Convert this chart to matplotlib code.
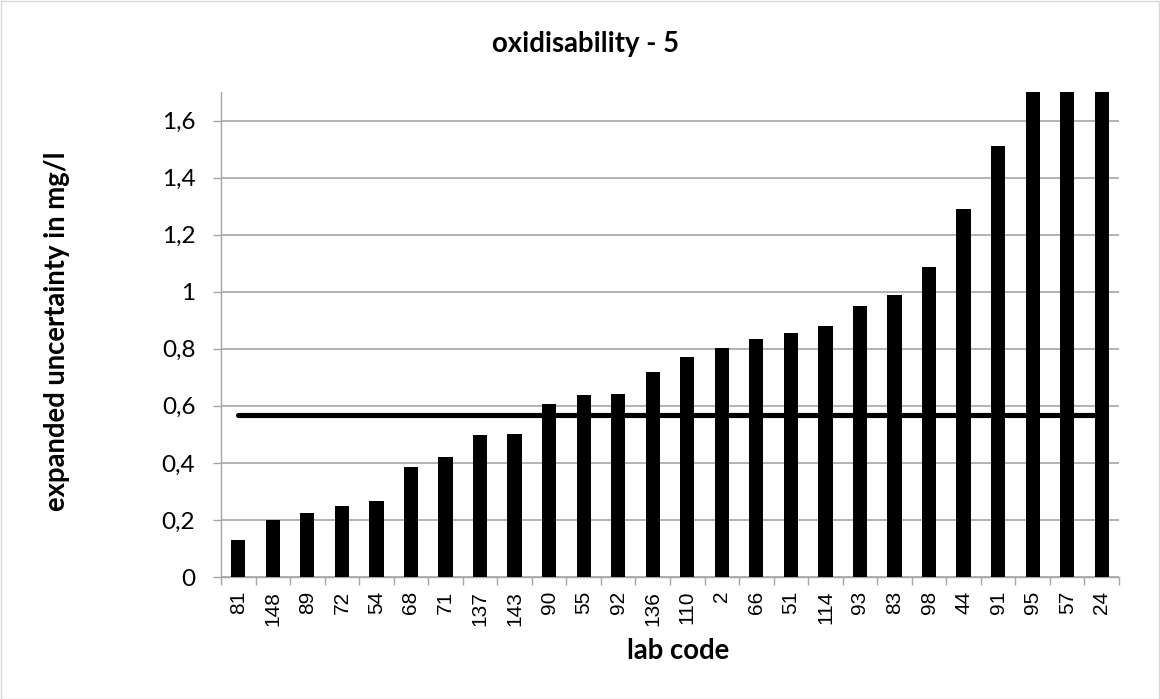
import matplotlib
matplotlib.use("Agg")
import matplotlib.pyplot as plt
from matplotlib.patches import Rectangle
import numpy as np

labs = ["81", "148", "89", "72", "54", "68", "71", "137", "143", "90", "55", "92",
        "136", "110", "2", "66", "51", "114", "93", "83", "98", "44", "91", "95", "57", "24"]
uncertainty = [0.129, 0.20, 0.223, 0.249, 0.268, 0.385, 0.419, 0.499, 0.50, 0.607, 0.637, 0.640,
               0.720, 0.770, 0.801, 0.833, 0.855, 0.880, 0.950, 0.989, 1.087, 1.290, 1.511,
               1.85, 2.1, 2.5]
reference_value = 0.567
yticks = [0, 0.2, 0.4, 0.6, 0.8, 1.0, 1.2, 1.4, 1.6]
ytick_labels = ["0", "0,2", "0,4", "0,6", "0,8", "1", "1,2", "1,4", "1,6"]

W, H = 1160, 699
fig = plt.figure(figsize=(W / 100, H / 100), dpi=100)
fig.patches.append(Rectangle((0.5 / W, 0.5 / H), 1 - 1.5 / W, 1 - 1.5 / H, transform=fig.transFigure,
                             fill=False, edgecolor="#D9D9D9", linewidth=1))

ax = fig.add_axes([221 / W, 1 - 577 / H, (1119 - 221) / W, (577 - 92) / H])
x = np.arange(len(labs))
ax.bar(x, uncertainty, width=0.41, color="black", zorder=3)
ax.plot([x[0], x[-1]], [reference_value, reference_value], color="black", linewidth=3.7,
        solid_capstyle="round", zorder=2)

ax.set_xlim(-0.5, len(labs) - 0.5)
ax.set_ylim(0, 1.7)
ax.set_yticks(yticks)
ax.set_yticklabels(ytick_labels, fontfamily="Lato", fontsize=17.5)
ax.yaxis.grid(True, color="#A6A6A6", linewidth=1.2, zorder=0)
ax.set_axisbelow(True)

ax.set_xticks(x)
ax.set_xticklabels(labs, rotation=90, fontfamily="Liberation Sans", fontsize=15)
ax.set_xticks(np.arange(-0.5, len(labs), 1), minor=True)
ax.tick_params(axis="x", which="major", length=0, pad=10)
ax.tick_params(axis="x", which="minor", length=6, color="#A6A6A6", width=1)
ax.tick_params(axis="y", length=6, color="#A6A6A6", width=1, pad=12.5)

for s in ["top", "right"]:
    ax.spines[s].set_visible(False)
for s in ["left", "bottom"]:
    ax.spines[s].set_color("#A6A6A6")
    ax.spines[s].set_linewidth(1)

fig.text(585 / W, 1 - 44 / H, "oxidisability - 5", ha="center", va="center",
         fontfamily="Lato", fontweight="bold", fontsize=19.8)
fig.text(57 / W, 1 - 331 / H, "expanded uncertainty in mg/l", ha="center", va="center",
         rotation=90, fontfamily="Lato", fontweight="bold", fontsize=19.8)
fig.text(678 / W, 1 - 651 / H, "lab code", ha="center", va="center",
         fontfamily="Lato", fontweight="bold", fontsize=19.8)

fig.savefig("out.png", dpi=100)
